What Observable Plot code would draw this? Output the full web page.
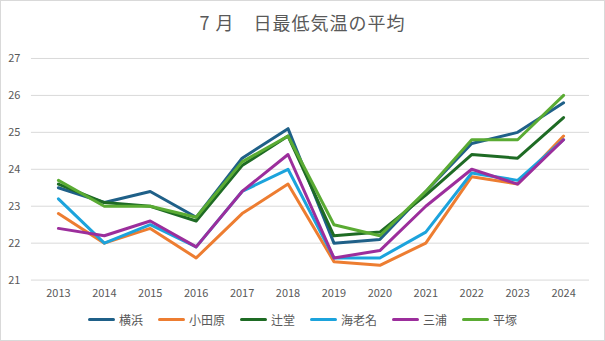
<!DOCTYPE html>
<html><head><meta charset="utf-8">
<script src="https://cdn.jsdelivr.net/npm/d3@7"></script>
<script src="https://cdn.jsdelivr.net/npm/@observablehq/plot@0.6"></script>
<style>
body{margin:0;background:#fff;font-family:"Noto Sans CJK JP","Noto Sans",sans-serif;}
#wrap{width:605px;height:341px;box-sizing:border-box;border:1px solid #d9d9d9;position:relative;overflow:hidden;}
#title{position:absolute;left:0;top:8px;width:100%;text-align:center;font-size:18px;color:#595959;letter-spacing:1px;}
#chart{position:absolute;left:-1px;top:40px;}
#legend{position:absolute;left:0;top:310px;width:100%;display:flex;justify-content:center;gap:15px;font-size:12px;color:#595959;}
.item{display:flex;align-items:center;gap:4px;}
.sw{width:27px;height:3px;border-radius:2px;}
</style></head><body>
<div id="wrap"><div id="title">7 月　日最低気温の平均</div><div id="chart"></div><div id="legend"></div></div>
<script>
const years = [2013,2014,2015,2016,2017,2018,2019,2020,2021,2022,2023,2024];
const seriesNames = ["横浜","小田原","辻堂","海老名","三浦","平塚"];
const colors = ["#1f6088","#ed7d31","#1e6b24","#1ca3dc","#9c2e9c","#5aab33"];
const yokohama  = [23.5,23.1,23.4,22.7,24.3,25.1,22.0,22.1,23.4,24.7,25.0,25.8];
const odawara   = [22.8,22.0,22.4,21.6,22.8,23.6,21.5,21.4,22.0,23.8,23.6,24.9];
const tsujido   = [23.6,23.1,23.0,22.6,24.1,24.9,22.2,22.3,23.3,24.4,24.3,25.4];
const ebina     = [23.2,22.0,22.5,21.9,23.4,24.0,21.6,21.6,22.3,23.9,23.7,24.8];
const miura     = [22.4,22.2,22.6,21.9,23.4,24.4,21.6,21.8,23.0,24.0,23.6,24.8];
const hiratsuka = [23.7,23.0,23.0,22.7,24.2,24.9,22.5,22.2,23.4,24.8,24.8,26.0];
const yTicks = [21,22,23,24,25,26,27];

const allValues = [yokohama,odawara,tsujido,ebina,miura,hiratsuka];
const data = [];
seriesNames.forEach((name,i)=>years.forEach((yr,j)=>data.push({series:name,year:yr,value:allValues[i][j]})));

const chart = Plot.plot({
  width:605, height:264,
  marginLeft:31, marginRight:15, marginTop:17, marginBottom:25,
  style:{fontFamily:"'Noto Sans CJK JP','Noto Sans',sans-serif",fontSize:"11px",color:"#595959",background:"transparent"},
  x:{type:"point",domain:years,padding:0.5,label:null},
  y:{domain:[21,27],label:null},
  color:{domain:seriesNames,range:colors},
  marks:[
    Plot.ruleY(yTicks,{stroke:"#d9d9d9",strokeWidth:1}),
    Plot.axisX({tickSize:0,tickPadding:9,tickFormat:d=>String(d),fill:"#595959",label:null}),
    Plot.axisY({ticks:yTicks,tickSize:0,tickPadding:11,tickFormat:d=>String(d),fill:"#595959",label:null}),
    Plot.line(data,{x:"year",y:"value",z:"series",stroke:"series",strokeWidth:3,strokeLinejoin:"round",strokeLinecap:"round"})
  ]
});
document.getElementById("chart").appendChild(chart);

const lg = document.getElementById("legend");
seriesNames.forEach((n,i)=>{
  const it=document.createElement("div");it.className="item";
  const sw=document.createElement("div");sw.className="sw";sw.style.background=colors[i];
  const t=document.createElement("span");t.textContent=n;
  it.appendChild(sw);it.appendChild(t);lg.appendChild(it);
});
</script>
</body></html>
